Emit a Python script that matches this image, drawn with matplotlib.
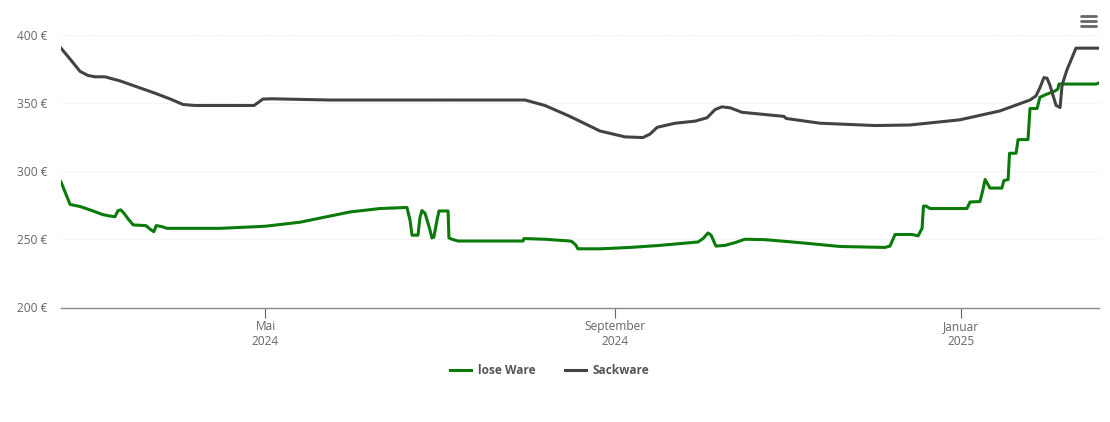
import matplotlib
matplotlib.use("Agg")
import matplotlib.pyplot as plt
from matplotlib.lines import Line2D

plt.rcParams['font.family'] = ['Open Sans', 'DejaVu Sans']

# x values: days since 2024-02-19
green_days = [0, 3.2, 6.7, 10.9, 14.8, 17.3, 19, 20.1, 21.1, 22.2, 23.6, 25.4, 29.9, 31.3, 32.7, 33.5, 34.9, 35.9, 37.3,
              56, 71.8, 84.2, 101.8, 112.3, 121.8, 122.9, 123.6, 125.7, 126.4, 127.1, 128.2, 129.9, 130.6, 131.3, 132.4,
              133.1, 136.3, 136.6, 137.7, 139.8, 162.7, 163, 170.4, 179.2, 179.9, 181.3, 182, 189.8, 200.4, 210.9, 224.3,
              226.1, 227.8, 228.9, 230.6, 233.8, 237.3, 240.8, 247.9, 260.2, 274.3, 290.1, 291.9, 293.7, 299.6, 301.8,
              303.2, 303.7, 304.6, 306, 319, 320.1, 323.6, 324.6, 325.4, 327.1, 331.3, 332, 333.5, 334, 336.3, 337, 340.5,
              341.2, 343.7, 344.7, 346.8, 350, 351, 351.4, 364.4, 365.5]
green_vals = [292, 275.5, 274, 271, 268, 267, 266.5, 271, 271.5, 269, 265, 260.5, 260, 257.5, 255.5, 260, 259.5, 259, 258,
              258, 259.5, 262.5, 270, 272.5, 273.3, 264, 253, 253, 266, 271, 269, 257, 251, 251.6, 264,
              270.7, 270.7, 251, 250, 248.7, 248.7, 250.5, 250, 248.7, 248.3, 245.7, 243, 243, 244, 245.5, 248,
              250.5, 254.6, 253, 245, 245.5, 247.5, 250, 249.7, 247.5, 244.7, 244, 245, 253.5, 253.5, 252.5,
              258, 274.3, 274.3, 272.5, 272.5, 277.3, 277.6, 286, 293.8, 287.5, 287.5, 293, 293.7, 313, 313, 323, 323,
              345.8, 345.8, 354, 356, 358.6, 360, 363.7, 363.7, 364.5]

dark_days = [0, 3.2, 6.7, 9.5, 12, 15.5, 20.8, 33.1, 38.4, 43, 47.2, 68, 69.3, 71.1, 74.3, 94.7, 163.4, 170.4, 179.2,
             189.8, 198.6, 204.9, 207.4, 209.9, 216.2, 223.2, 227.5, 230.3, 232.7, 235.6, 239.8, 254.6, 255.3, 267.3,
             286.6, 298.9, 316.5, 330.6, 341.2, 343.3, 344.7, 346.1, 347.2, 348.2, 350.4, 351.8, 352.5, 354.2, 357.4, 365.5]
dark_vals = [390, 382, 373, 370, 369, 369, 366, 357, 352.8, 348.7, 348, 348, 350, 352.7, 352.9, 352, 352, 348, 340,
             329.3, 325, 324.5, 327, 332, 335, 336.5, 339, 345, 347, 346.3, 343, 340, 338.5, 335,
             333.3, 333.7, 337.5, 344, 352, 355, 361, 368.4, 368, 363, 348, 346.5, 363, 374, 390, 390]

y_ticks = [200, 250, 300, 350, 400]
y_labels = ['200 €', '250 €', '300 €', '350 €', '400 €']
x_ticks = [72, 195, 317]
x_labels = ['Mai\n2024', 'September\n2024', 'Januar\n2025']
series_names = ['lose Ware', 'Sackware']

W, H = 1110, 422
fig = plt.figure(figsize=(W / 100, H / 100), dpi=100, facecolor='white')
ax = fig.add_axes([61 / W, (H - 307.5) / H, (1099 - 61) / W, 273 / H])
ax.plot(green_days, green_vals, color='#0a7a0a', lw=2.2, solid_joinstyle='round', label=series_names[0], zorder=3)
ax.plot(dark_days, dark_vals, color='#434343', lw=2.2, solid_joinstyle='round', label=series_names[1], zorder=3)
ax.set_xlim(0, 365.5)
ax.set_ylim(200, 400)
ax.set_yticks(y_ticks, y_labels)
ax.set_xticks(x_ticks, x_labels)
ax.grid(axis='y', color='#e6e6e6', lw=0.8, ls=(0, (1, 1.5)))
ax.set_axisbelow(True)
for s in ['top', 'left', 'right']:
    ax.spines[s].set_visible(False)
ax.spines['bottom'].set_color('#888888')
ax.spines['bottom'].set_linewidth(1.0)
ax.tick_params(axis='y', length=0, pad=10, labelsize=8.6, labelcolor='#666666')
ax.tick_params(axis='x', length=7, width=0.8, color='#666666', pad=2, labelsize=8.6, labelcolor='#666666')

leg = fig.legend(loc='center', bbox_to_anchor=(550 / W, 1 - 371 / H), ncol=2, frameon=False,
                 prop={'size': 8.6, 'weight': 'bold'}, labelcolor='#555555',
                 handlelength=1.75, handletextpad=0.6, columnspacing=2.4, borderpad=0)

for yy in (16, 21, 26):
    fig.add_artist(Line2D([1080.5 / W, 1095.5 / W], [1 - yy / H] * 2, transform=fig.transFigure,
                          color='#666666', lw=2.0, solid_capstyle='round'))

fig.savefig('out.png', dpi=100, facecolor='white')
